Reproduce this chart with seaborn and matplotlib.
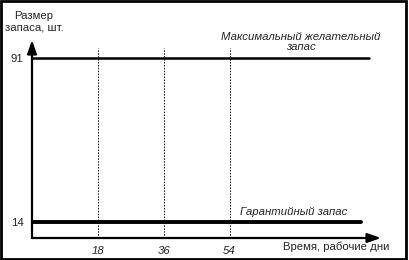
import matplotlib
matplotlib.use("Agg")
import matplotlib.pyplot as plt
import seaborn as sns
import pandas as pd
from matplotlib.patches import Rectangle

sns.set_style("white")
plt.rcParams['font.family'] = ['Liberation Sans', 'DejaVu Sans']

# data
max_level = 91
safety_level = 14
day_ticks = [18, 36, 54]
level_ticks = [91, 14]
max_line_days = [0, 92]
safety_line_days = [0, 90]

W, H = 409, 260
fs = 8.2
fig = plt.figure(figsize=(W / 100, H / 100), dpi=100)
# axes placed in pixel terms: left 32, right 381, bottom 238, top 40
l, r, b, t = 32, 381, 238, 40
ax = fig.add_axes([l / W, 1 - b / H, (r - l) / W, (b - t) / H])
ax.set_xlim(0, 95.4)
ax.set_ylim(6.5, 99.4)

df_max = pd.DataFrame({"day": max_line_days, "level": [max_level] * 2})
df_safe = pd.DataFrame({"day": safety_line_days, "level": [safety_level] * 2})
sns.lineplot(data=df_max, x="day", y="level", ax=ax, color="black", lw=1.8)
sns.lineplot(data=df_safe, x="day", y="level", ax=ax, color="black", lw=2.8)

for d in day_ticks:
    ax.plot([d, d], [6.5, 95.5], color="black", lw=0.7, ls=(0, (1.5, 1.5)))

for s in ax.spines.values():
    s.set_visible(False)
# axes with arrows
ax.annotate("", xy=(95.4, 6.5), xytext=(0, 6.5), xycoords="data",
            arrowprops=dict(arrowstyle="-|>,head_length=0.8,head_width=0.28", lw=1.6, color="black",
                            shrinkA=0, shrinkB=0), annotation_clip=False)
ax.annotate("", xy=(0, 99.4), xytext=(0, 6.5), xycoords="data",
            arrowprops=dict(arrowstyle="-|>,head_length=0.8,head_width=0.28", lw=1.6, color="black",
                            shrinkA=0, shrinkB=0), annotation_clip=False)

ax.set_xticks(day_ticks)
ax.set_xticklabels([str(d) for d in day_ticks], fontstyle="italic", fontsize=fs)
ax.set_yticks(level_ticks)
ax.set_yticklabels([str(v) for v in level_ticks], fontsize=fs)
ax.tick_params(length=0, pad=6)
ax.set_xlabel("")
ax.set_ylabel("")

fig.text(34 / W, 1 - 22 / H, "Размер\nзапаса, шт.", ha="center", va="center",
         fontsize=fs, linespacing=1.2)
ax.text(73.5, 94, "Максимальный желательный\nзапас", ha="center", va="bottom",
        fontstyle="italic", fontsize=fs, linespacing=1.0)
ax.text(71.5, 16.5, "Гарантийный запас", ha="center", va="bottom",
        fontstyle="italic", fontsize=fs)
fig.text(389 / W, 1 - 247 / H, "Время, рабочие дни", ha="right", va="center",
         fontsize=fs)

fig.patches.append(Rectangle((0.003, 0.005), 0.99, 0.99, transform=fig.transFigure,
                             fill=False, edgecolor="black", lw=2))

fig.savefig("out.png", dpi=100)
